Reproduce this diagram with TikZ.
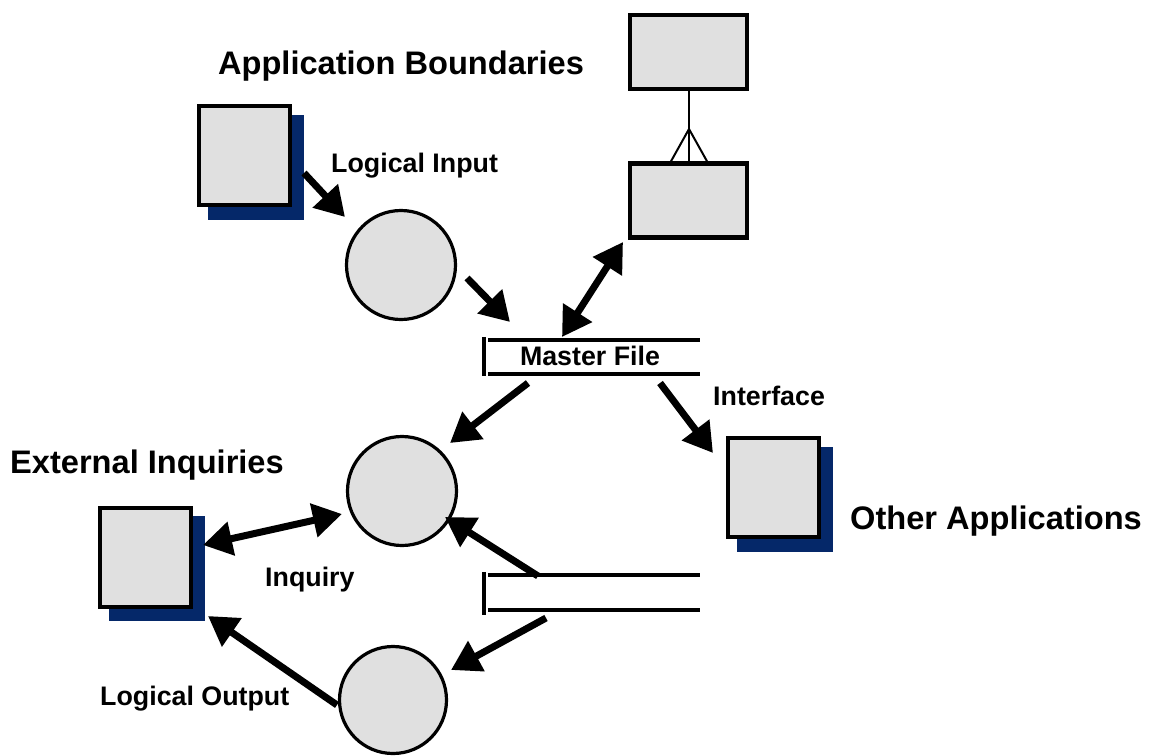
\documentclass[tikz,border=0pt]{standalone}
\usepackage{fontspec}
\setmainfont{Liberation Sans}
\usetikzlibrary{arrows.meta}
\definecolor{boxfill}{RGB}{224,224,224}
\definecolor{shadow}{RGB}{5,40,105}
\tikzset{
  docbox/.style={draw=black, line width=4pt, fill=boxfill, minimum width=91pt, minimum height=99pt, inner sep=0pt},
  docshadow/.style={fill=shadow, minimum width=96pt, minimum height=105pt, inner sep=0pt},
  erbox/.style={draw=black, line width=4.5pt, fill=boxfill, minimum width=117pt, minimum height=74pt, inner sep=0pt},
  proc/.style={circle, draw=black, line width=3.2pt, fill=boxfill, inner sep=0pt},
  store/.style={minimum width=212pt, inner sep=0pt},
  storeline/.style={line width=3.6pt},
  arr/.style={line width=7pt, -{Triangle[length=29pt,width=33pt]}},
  darr/.style={line width=7pt, {Triangle[length=29pt,width=33pt]}-{Triangle[length=29pt,width=33pt]}},
  crow/.style={line width=2pt},
  biglabel/.style={font=\bfseries\fontsize{32.6}{36}\selectfont, inner sep=0pt},
  smalllabel/.style={font=\bfseries\fontsize{26.8}{30}\selectfont, inner sep=0pt},
}
\begin{document}
\begin{tikzpicture}[x=1pt,y=-1pt]
\useasboundingbox (0,0) rectangle (1150,755);

% document boxes with shadows
\node[docshadow] (s1) at (256,167.5) {};
\node[docbox] (b1) at (244.5,155.5) {};
\node[docshadow] (s2) at (156.5,568.5) {};
\node[docbox] (b2) at (145,557) {};
\node[docshadow] (s3) at (784.5,499.5) {};
\node[docbox] (b3) at (773.5,487) {};

% entity boxes
\node[erbox] (e1) at (688.5,52) {};
\node[erbox] (e2) at (688.5,200.5) {};

% processes
\node[proc, minimum size=109pt] (c1) at (401,265) {};
\node[proc, minimum size=109pt] (c2) at (402,491) {};
\node[proc, minimum size=107pt] (c3) at (393,700) {};

% data stores
\node[store, minimum height=34pt] (mf) at (594,357) {};
\draw[storeline] (mf.north west) -- (mf.north east);
\draw[storeline] (mf.south west) -- (mf.south east);
\draw[line width=4pt] ([xshift=-4pt,yshift=3pt]mf.north west) -- ([xshift=-4pt,yshift=-2pt]mf.south west);
\node[store, minimum height=35pt] (st) at (594,592.5) {};
\draw[storeline] (st.north west) -- (st.north east);
\draw[storeline] (st.south west) -- (st.south east);
\draw[line width=4pt] ([xshift=-4pt,yshift=3pt]st.north west) -- ([xshift=-4pt,yshift=-5pt]st.south west);

% crow's foot relation
\coordinate (fork) at (689,129);
\draw[crow] (e1.south) -- (e2.north);
\draw[crow] (fork) -- (e2.north -| 671,0);
\draw[crow] (fork) -- (e2.north -| 707,0);

% arrow end points
\coordinate (a1s) at (304,173);  \coordinate (a1e) at (345,217);
\coordinate (a2s) at (467,278);  \coordinate (a2e) at (510,322);
\coordinate (a3s) at (562,337);  \coordinate (a3e) at (623,242);
\coordinate (a4s) at (528,383);  \coordinate (a4e) at (450,443);
\coordinate (a5s) at (660,383);  \coordinate (a5e) at (713,453);
\coordinate (a6s) at (203,545);  \coordinate (a6e) at (342,514);
\coordinate (a7s) at (538,576);  \coordinate (a7e) at (445,517);
\coordinate (a8s) at (546,618);  \coordinate (a8e) at (451,670);
\coordinate (a9s) at (337,705);  \coordinate (a9e) at (208,616);

\draw[arr] (a1s) -- (a1e);
\draw[arr] (a2s) -- (a2e);
\draw[darr] (a3s) -- (a3e);
\draw[arr] (a4s) -- (a4e);
\draw[arr] (a5s) -- (a5e);
\draw[darr] (a6s) -- (a6e);
\draw[arr] (a7s) -- (a7e);
\draw[arr] (a8s) -- (a8e);
\draw[arr] (a9s) -- (a9e);

% labels
\node[biglabel, anchor=base] (lab1) at (401,74) {Application Boundaries};
\node[smalllabel, anchor=base west] (lab2) at (331,172) {Logical Input};
\node[smalllabel, anchor=base] (lab3) at (590,365) {Master File};
\node[smalllabel, anchor=base west] (lab4) at (713,405) {Interface};
\node[biglabel, anchor=base west] (lab5) at (10,473) {External Inquiries};
\node[biglabel, anchor=base west] (lab6) at (850,529) {Other Applications};
\node[smalllabel, anchor=base west] (lab7) at (265,586) {Inquiry};
\node[smalllabel, anchor=base west] (lab8) at (100,705) {Logical Output};
\end{tikzpicture}
\end{document}
